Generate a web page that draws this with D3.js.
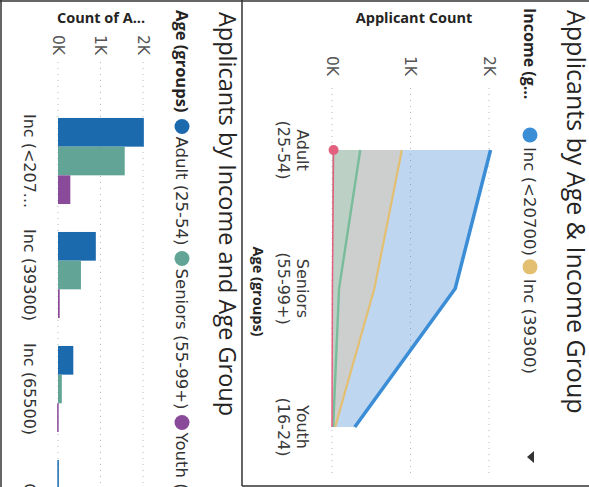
<!DOCTYPE html>
<html>
<head>
<meta charset="utf-8">
<script src="https://cdn.jsdelivr.net/npm/d3@7"></script>
<style>
  body { margin: 0; background: #fff; }
  text { font-family: "DejaVu Sans", sans-serif; }
  .title { font-family: "Open Sans", sans-serif; fill: #252423; }
  .bold { font-family: "Open Sans", sans-serif; font-weight: bold; fill: #252423; }
</style>
</head>
<body>
<svg id="chart" width="589" height="487"></svg>
<script>
// categories
const ageGroups = ["Adult (25-54)", "Seniors (55-99+)", "Youth (16-24)"];
const incomeGroups = ["Inc (<20700)", "Inc (39300)", "Inc (65500)", "Cash"];
// applicant counts per income group, one array per age group
const adultCounts = [2020, 890, 360, 20];
const seniorCounts = [1570, 540, 90, 5];
const youthCounts = [290, 40, 15, 0];
const countTicks = [0, 1000, 2000];

const incomeLine = ["#3b8dd6", "#e3bf72", "#79bc9a", "#e4607f"];
const incomeFill = ["#3d83d2", "#f0c080", "#8fd4b0", "#e4607f"];
const ageColors = ["#1c6aae", "#62a496", "#8a4a9a"];

const byAge = [adultCounts, seniorCounts, youthCounts];
const kFormat = d => d / 1000 + "K";

// cut a label down with "..." until it fits
function fitText(sel, maxW) {
  sel.each(function () {
    const t = d3.select(this);
    let s = t.text();
    while (this.getComputedTextLength() > maxW && s.length > 1) {
      s = s.slice(0, -1);
      t.text(s.trimEnd() + "...");
    }
  });
}

const svg = d3.select("#chart");
// the page was scanned on its side: draw it upright and turn it
const page = svg.append("g").attr("transform", "translate(589,0) rotate(90)");

// ---------- area chart (top visual) ----------
const topV = page.append("g");
const xA = d3.scalePoint().domain(ageGroups).range([150, 427]);
const yA = d3.scaleLinear().domain([0, 2000]).range([257, 100]);

topV.append("text").attr("class", "title").attr("x", 10).attr("y", 22)
  .attr("font-size", 25)
  .text("Applicants by Age & Income Group");

topV.selectAll(".gridA").data(countTicks).join("line")
  .attr("x1", 88).attr("x2", 478)
  .attr("y1", d => yA(d)).attr("y2", d => yA(d))
  .attr("stroke", "#b8b8b8").attr("stroke-dasharray", "1,5");

const axA = topV.append("g").attr("transform", "translate(76,0)")
  .call(d3.axisLeft(yA).tickValues(countTicks).tickFormat(kFormat).tickSize(0).tickPadding(0));
axA.select(".domain").remove();
axA.selectAll("text").attr("font-size", 15.5).attr("fill", "#555").attr("font-family", "DejaVu Sans");

const series = incomeGroups.map((name, i) => ({
  name: name, line: incomeLine[i], fill: incomeFill[i], values: byAge.map(a => a[i])
}));
const areaGen = d3.area()
  .x((d, j) => xA(ageGroups[j]))
  .y0(yA(0))
  .y1(d => yA(d));
const lineGen = d3.line()
  .x((d, j) => xA(ageGroups[j]))
  .y(d => yA(d));
const fillOp = [0.33, 0.3, 0.28, 0.15];
const lineW = [3.5, 2.2, 2.4, 1.5];

topV.selectAll(".area").data(series).join("path")
  .attr("d", d => areaGen(d.values))
  .attr("fill", d => d.fill)
  .attr("fill-opacity", (d, i) => fillOp[i]);
topV.selectAll(".line").data(series).join("path")
  .attr("d", d => lineGen(d.values))
  .attr("fill", "none")
  .attr("stroke", d => d.line)
  .attr("stroke-width", (d, i) => lineW[i]);

// the marker of the last series on the first point
const last = series[series.length - 1];
topV.append("circle")
  .attr("cx", xA(ageGroups[0])).attr("cy", yA(last.values[0]))
  .attr("r", 5).attr("fill", last.line);

const catA = topV.selectAll(".catA").data(ageGroups).join("text")
  .attr("y", 292).attr("text-anchor", "middle")
  .attr("font-size", 16).attr("fill", "#3a3a3a");
catA.append("tspan").attr("x", d => xA(d)).text(d => d.split(" ")[0]);
catA.append("tspan").attr("x", d => xA(d)).attr("dy", 19).text(d => d.split(" ")[1]);

topV.append("text").attr("class", "bold")
  .attr("x", (xA.range()[0] + xA.range()[1]) / 2 + 3).attr("y", 336)
  .attr("text-anchor", "middle").attr("font-size", 14.5)
  .text("Age (groups)");

topV.append("text").attr("class", "bold").attr("transform", "translate(23,175) rotate(-90)")
  .attr("text-anchor", "middle").attr("font-size", 14.5)
  .text("Applicant Count");

// legend
const legA = topV.append("g");
const legATitle = legA.append("text").attr("class", "bold").attr("x", 8).attr("y", 65)
  .attr("font-size", 16)
  .text("Income (groups)");
fitText(legATitle, 94);
let lx = 135;
series.slice(0, 2).forEach(s => {
  legA.append("circle").attr("cx", lx).attr("cy", 59).attr("r", 7.5).attr("fill", s.line);
  const t = legA.append("text").attr("x", lx + 12).attr("y", 65)
    .attr("font-size", 16.5).attr("fill", "#333").text(s.name);
  lx += 12 + t.node().getComputedTextLength() + 11;
});
topV.append("path").attr("d", "M451,55 L463,55 L457,62 Z").attr("fill", "#333");

// ---------- clustered bar chart (bottom visual) ----------
const botV = page.append("g");
const yB = d3.scaleLinear().domain([0, 2000]).range([531, 446]);
const x0 = d3.scaleBand().domain(incomeGroups).range([104, 560])
  .paddingInner(0.245).paddingOuter(0.1225);
const x1 = d3.scaleBand().domain(ageGroups).range([0, x0.bandwidth()]);

botV.append("text").attr("class", "title").attr("x", 12).attr("y", 370)
  .attr("font-size", 23.5)
  .text("Applicants by Income and Age Group");

const legB = botV.append("g");
const legBTitle = legB.append("text").attr("class", "bold").attr("x", 10).attr("y", 413)
  .attr("font-size", 16.5)
  .text("Age (groups)");
let bx = 10 + legBTitle.node().getComputedTextLength() + 14;
ageGroups.forEach((a, j) => {
  legB.append("circle").attr("cx", bx).attr("cy", 407).attr("r", 7.5).attr("fill", ageColors[j]);
  const t = legB.append("text").attr("x", bx + 10).attr("y", 413)
    .attr("font-size", 16.5).attr("fill", "#333").text(a);
  bx += 10 + t.node().getComputedTextLength() + 13;
});

botV.selectAll(".gridB").data(countTicks).join("line")
  .attr("x1", 62).attr("x2", 487)
  .attr("y1", d => yB(d)).attr("y2", d => yB(d))
  .attr("stroke", "#b8b8b8").attr("stroke-dasharray", "1,5");

const axB = botV.append("g").attr("transform", "translate(55,0)")
  .call(d3.axisLeft(yB).tickValues(countTicks).tickFormat(kFormat).tickSize(0).tickPadding(0));
axB.select(".domain").remove();
axB.selectAll("text").attr("font-size", 15.5).attr("fill", "#555").attr("font-family", "DejaVu Sans");

const yTitleB = botV.append("text").attr("class", "bold").attr("transform", "translate(23,488) rotate(-90)")
  .attr("text-anchor", "middle").attr("font-size", 14.5)
  .text("Count of Applicants");
fitText(yTitleB, 90);

const groups = botV.selectAll(".grp").data(incomeGroups).join("g")
  .attr("transform", d => `translate(${x0(d)},0)`);
groups.selectAll("rect").data((g, i) => byAge.map((arr, j) => ({ age: ageGroups[j], v: arr[i], c: ageColors[j] })))
  .join("rect")
  .attr("x", d => x1(d.age)).attr("width", x1.bandwidth())
  .attr("y", d => yB(d.v)).attr("height", d => Math.max(yB(0) - yB(d.v), 1.5))
  .attr("fill", d => d.c);

const catB = botV.selectAll(".catB").data(incomeGroups).join("text")
  .attr("x", d => x0(d) + x0.bandwidth() / 2).attr("y", 565)
  .attr("text-anchor", "middle").attr("font-size", 16).attr("fill", "#333")
  .text(d => d);
fitText(catB, 100);

// frames
const frame = page.append("g").attr("stroke", "#333").attr("stroke-width", 1.5);
frame.append("line").attr("x1", 1).attr("x2", 1).attr("y1", 0).attr("y2", 589);
frame.append("line").attr("x1", 0).attr("x2", 486).attr("y1", 347).attr("y2", 347);
frame.append("line").attr("x1", 486).attr("x2", 486).attr("y1", 0).attr("y2", 347);
frame.append("line").attr("x1", 0).attr("x2", 487).attr("y1", 588).attr("y2", 588);
</script>
</body>
</html>
